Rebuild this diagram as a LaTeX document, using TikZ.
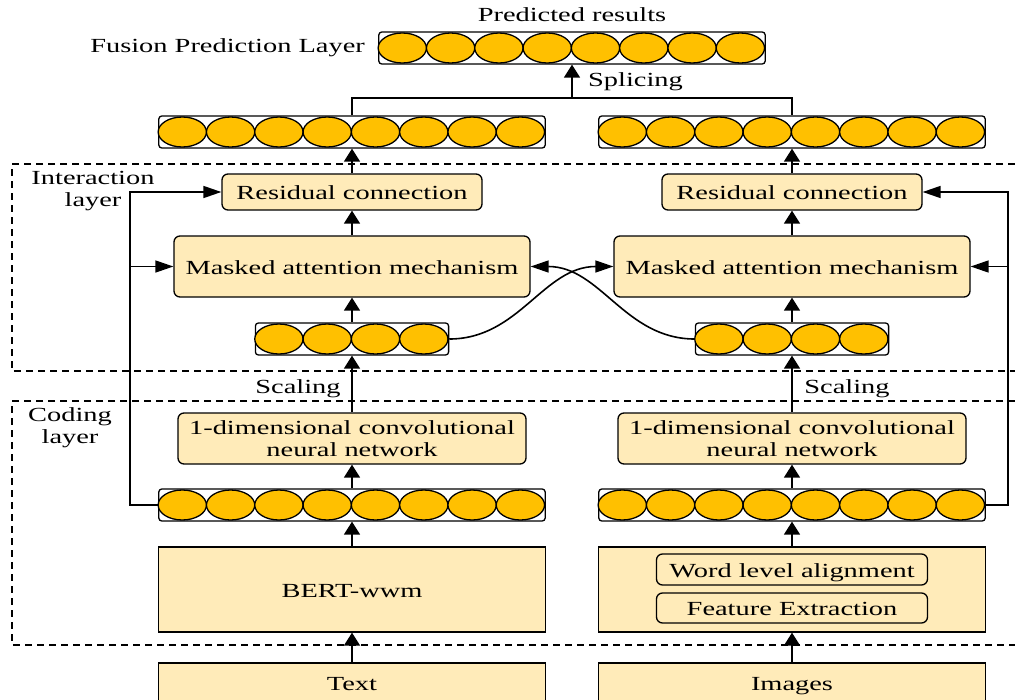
\documentclass[tikz,border=0pt]{standalone}
\usepackage{fontspec}
\setmainfont[FakeStretch=1.42]{Liberation Serif}
\usetikzlibrary{arrows.meta,calc}
\definecolor{boxfill}{HTML}{FFEBB9}
\definecolor{cellfill}{HTML}{FFC000}
\tikzset{
  every node/.style={font=\fontsize{20}{22}\selectfont},
  block/.style={draw, fill=boxfill, line width=1.3pt, rounded corners=6pt, inner sep=0pt, align=center},
  plain/.style={draw, fill=boxfill, line width=1.3pt, inner sep=0pt, align=center},
  oneline/.style={text height=15pt, text depth=0pt},
  vecbox/.style={draw, fill=white, line width=1.3pt, rounded corners=3pt, inner sep=0pt, minimum height=32pt},
  cell/.style={draw, fill=cellfill, line width=1.3pt},
  link/.style={line width=1.6pt},
  varr/.style={link, -{Triangle[length=13pt,width=16pt]}},
  harr/.style={link, -{Triangle[length=18pt,width=12pt]}},
  layerbox/.style={line width=1.3pt, dash pattern=on 7pt off 5pt},
  lbl/.style={inner sep=0pt}
}
% a row of n feature cells inside a thin frame: name, centre x, centre y, n
\newcommand{\vecrow}[4]{%
  \node[vecbox, minimum width=#4*48.3pt] (#1) at (#2,#3) {};
  \foreach \k in {1,...,#4}{
    \draw[cell] ($(#1.west)+(\k*48.3-24.15,0)$) ellipse [x radius=24.15pt, y radius=15pt];
  }%
}
\begin{document}
\begin{tikzpicture}[x=1pt,y=-1pt]
\useasboundingbox (0,0) rectangle (1015,699);

% layer frames
\draw[layerbox] (1015,164) -| (12,371) -- (1015,371);
\draw[layerbox] (1015,401) -| (12,645) -- (1015,645);

% inputs and encoders
\node[plain, oneline, minimum width=387pt, minimum height=40pt] (txt) at (352,683) {Text};
\node[plain, oneline, minimum width=387pt, minimum height=40pt] (img) at (792,683) {Images};
\node[plain, oneline, minimum width=387pt, minimum height=85pt] (bert) at (352,589.5) {BERT-wwm};
\node[plain, minimum width=387pt, minimum height=85pt] (imgenc) at (792,589.5) {};
\node[block, oneline, minimum width=271pt, minimum height=31pt] (word) at (792,569.5) {Word level alignment};
\node[block, oneline, minimum width=271pt, minimum height=30pt] (featx) at (792,608) {Feature Extraction};

% feature rows
\vecrow{vecL}{352}{505}{8}
\vecrow{vecR}{792}{505}{8}
\vecrow{smL}{352}{339}{4}
\vecrow{smR}{792}{339}{4}
\vecrow{topL}{352}{132}{8}
\vecrow{topR}{792}{132}{8}
\vecrow{fuse}{572}{48}{8}

% processing blocks
\node[block, minimum width=348pt, minimum height=51pt] (convL) at (352,438.5) {1-dimensional convolutional\\neural network};
\node[block, minimum width=348pt, minimum height=51pt] (convR) at (792,438.5) {1-dimensional convolutional\\neural network};
\node[block, oneline, minimum width=356pt, minimum height=61pt] (maskL) at (352,266.5) {Masked attention mechanism};
\node[block, oneline, minimum width=356pt, minimum height=61pt] (maskR) at (792,266.5) {Masked attention mechanism};
\node[block, oneline, minimum width=260pt, minimum height=36pt] (resL) at (352,192) {Residual connection};
\node[block, oneline, minimum width=260pt, minimum height=36pt] (resR) at (792,192) {Residual connection};

% labels
\node[lbl] (pred) at (572,15) {Predicted results};
\node[lbl, anchor=east] (fuselbl) at (365,48) {Fusion Prediction Layer};
\node[lbl, anchor=base west] (splbl) at (588,86) {Splicing};
\node[lbl, anchor=base] (scL) at (298,393) {Scaling};
\node[lbl, anchor=base] (scR) at (847,393) {Scaling};
\node[lbl, align=center] (inter) at (93,191) {Interaction\\layer};
\node[lbl, align=center] (codl) at (70,428) {Coding\\layer};

% main vertical flow
\draw[varr] (txt.north) -- (bert.south);
\draw[varr] (img.north) -- (imgenc.south);
\draw[varr] (bert.north) -- (vecL.south);
\draw[varr] (imgenc.north) -- (vecR.south);
\draw[varr] (vecL.north) -- (convL.south);
\draw[varr] (vecR.north) -- (convR.south);
\draw[varr] (convL.north) -- (smL.south);
\draw[varr] (convR.north) -- (smR.south);
\draw[varr] (smL.north) -- (maskL.south);
\draw[varr] (smR.north) -- (maskR.south);
\draw[varr] (maskL.north) -- (resL.south);
\draw[varr] (maskR.north) -- (resR.south);
\draw[varr] (resL.north) -- (topL.south);
\draw[varr] (resR.north) -- (topR.south);

% splicing into the fusion row
\coordinate (splice) at (572,98);
\draw[link] (topL.north) |- (splice) -| (topR.north);
\draw[varr] (splice) -- (fuse.south);

% residual skip paths
\coordinate (skipL) at (130,192);
\draw[harr] (vecL.west) -| (skipL) -- (resL.west);
\draw[harr] (skipL |- maskL.west) -- (maskL.west);
\coordinate (skipR) at (1008,192);
\draw[harr] (vecR.east) -| (skipR) -- (resR.east);
\draw[harr] (skipR |- maskR.east) -- (maskR.east);

% cross-modal attention inputs
\draw[harr] (smL.east) to[out=0,in=180] (maskR.west);
\draw[harr] (smR.west) to[out=180,in=0] (maskL.east);
\end{tikzpicture}
\end{document}
